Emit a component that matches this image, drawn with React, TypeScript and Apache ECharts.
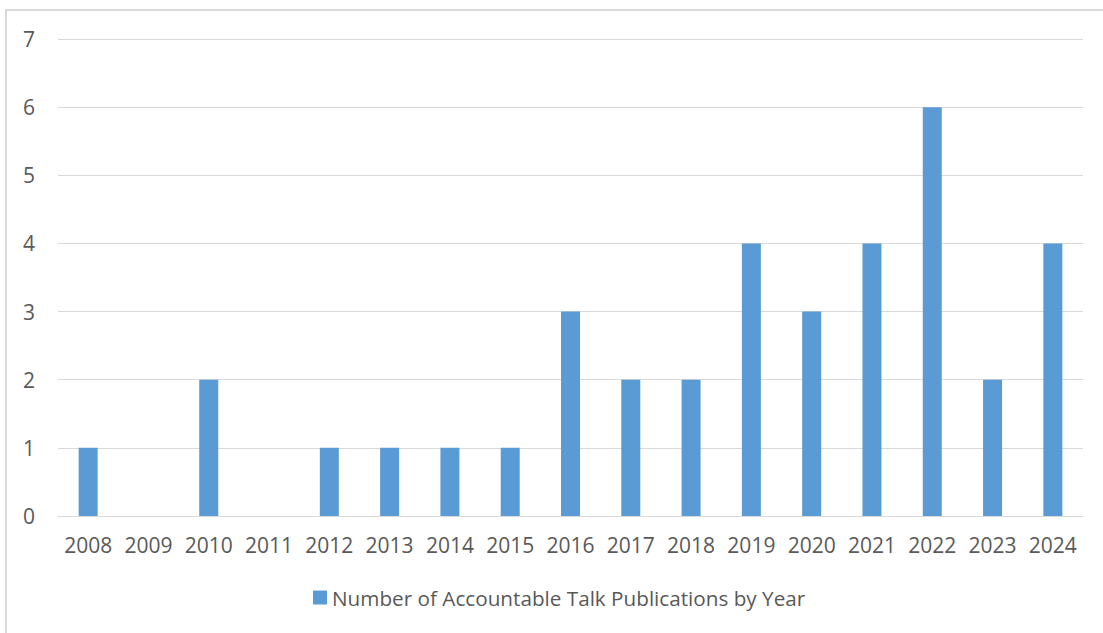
import React, { useEffect, useRef } from "react";
import * as echarts from "echarts";

const years = ["2008", "2009", "2010", "2011", "2012", "2013", "2014", "2015", "2016", "2017", "2018", "2019", "2020", "2021", "2022", "2023", "2024"];
const publications = [1, 0, 2, 0, 1, 1, 1, 1, 3, 2, 2, 4, 3, 4, 6, 2, 4];
const seriesName = "Number of Accountable Talk Publications by Year";

export default function App() {
  const ref = useRef<HTMLDivElement>(null);
  useEffect(() => {
    if (!ref.current) return;
    const chart = echarts.init(ref.current, null, { renderer: "svg" });
    const font = "'Open Sans', 'Liberation Sans', sans-serif";
    chart.setOption({
      animation: false,
      backgroundColor: "#ffffff",
      textStyle: { fontFamily: font },
      grid: { left: 58, right: 20, top: 39, bottom: 117, containLabel: false },
      graphic: [
        {
          type: "rect",
          shape: { x: 6, y: 10, width: 1120, height: 650 },
          style: { fill: "none", stroke: "#D9D9D9", lineWidth: 2 },
          silent: true,
        },
      ],
      legend: {
        bottom: 20,
        left: 308,
        icon: "rect",
        itemWidth: 14,
        itemHeight: 14,
        itemGap: 6,
        textStyle: { color: "#595959", fontSize: 20.7, fontFamily: font },
        data: [seriesName],
      },
      xAxis: {
        type: "category",
        data: years,
        axisLine: { show: true, lineStyle: { color: "#D9D9D9", width: 1 } },
        axisTick: { show: false },
        axisLabel: { color: "#595959", fontSize: 21, margin: 18, interval: 0, hideOverlap: false, fontFamily: font },
      },
      yAxis: {
        type: "value",
        min: 0,
        max: 7,
        interval: 1,
        axisLine: { show: false },
        axisTick: { show: false },
        axisLabel: { color: "#595959", fontSize: 21, margin: 23, fontFamily: font },
        splitLine: { lineStyle: { color: "#D9D9D9", width: 1 } },
      },
      series: [
        {
          name: seriesName,
          type: "bar",
          data: publications,
          barWidth: 19,
          itemStyle: { color: "#5B9BD5" },
        },
      ],
    });
    return () => chart.dispose();
  }, []);
  return (
    <div
      ref={ref}
      style={{ position: "fixed", left: 0, top: 0, width: 1103, height: 633, background: "#fff" }}
    />
  );
}
